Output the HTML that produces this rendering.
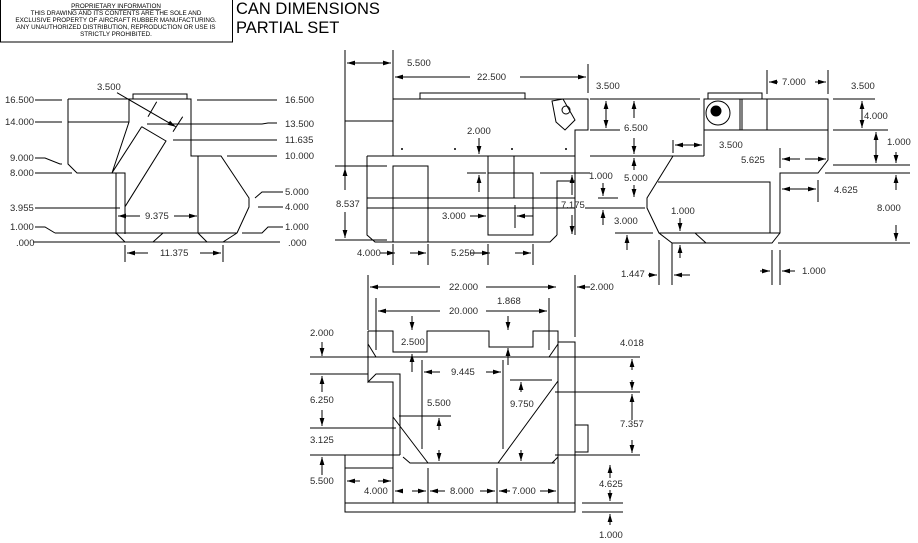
<!DOCTYPE html>
<html><head><meta charset="utf-8"><style>
html,body{margin:0;padding:0;background:#fff;width:918px;height:543px;overflow:hidden}
svg{display:block}
text{font-family:"Liberation Sans",sans-serif;font-size:9.5px;fill:#2a2a2a}
.t{font-size:16.5px;fill:#000}
.s{font-size:6.3px;fill:#000}
</style></head><body>
<svg width="918" height="543" viewBox="0 0 918 543" xmlns="http://www.w3.org/2000/svg">
<defs>
<marker id="a" viewBox="0 0 10 6" refX="10" refY="3" markerWidth="8" markerHeight="5" markerUnits="userSpaceOnUse" orient="auto"><path d="M0,0L10,3L0,6z" fill="#000"/></marker>
</defs>
<rect x="0.5" y="-1" width="232" height="43" fill="none" stroke="#000"/>
<text class="s" x="116" y="8" text-anchor="middle" text-decoration="underline">PROPRIETARY INFORMATION</text>
<text class="s" x="116" y="15" text-anchor="middle">THIS DRAWING AND ITS CONTENTS ARE THE SOLE AND</text>
<text class="s" x="116" y="22" text-anchor="middle">EXCLUSIVE PROPERTY OF AIRCRAFT RUBBER MANUFACTURING.</text>
<text class="s" x="116" y="29" text-anchor="middle">ANY UNAUTHORIZED DISTRIBUTION, REPRODUCTION OR USE IS</text>
<text class="s" x="116" y="36" text-anchor="middle">STRICTLY PROHIBITED.</text>
<text class="t" x="236" y="14">CAN DIMENSIONS</text>
<text class="t" x="236" y="33">PARTIAL SET</text>

<g fill="none" stroke="#000" stroke-width="1">
<rect x="133" y="94" width="54" height="5"/>
<path d="M68,99H191V156H198V233M68,99V164L77,173H125V234M116,173V234M68,122H129V99M129,122L112,173M141.7,126.7L111.7,173.3M141.7,126.7L166,141L125,206.7"/>
<path d="M198,156H221L249,198V207L237,233M55,233H237M33,242H280M116,233L125,242M163,233L153,242M198,233L207,242M237,233L223,242"/>
<path d="M35,100H62M35,122H62M35,158H45L60,164H62M35,173H72M35,208H120M35,227H45L55,233M197,100H277M147,124H262L268,123H277M173,140H277M227,156H277M255,198L262,192H283M258,207H283M242,233H262L268,227H283"/>
<path d="M156.7,101.7L148,116.7M182.7,116.7L173,131.7M125,245V262M223,245V262"/>

<rect x="420" y="93" width="105" height="6"/>
<path d="M393,156V99H588V130H575V156H393M367,156H575V235M367,156V235L375,242H550L557,235M367,198H575M367,208H575"/>
<path d="M552,101L563,99L575,120L565,130L556,122Z"/>
<circle cx="566" cy="110" r="4"/>
<rect x="393" y="166" width="35" height="76"/>
<rect x="488" y="156" width="26" height="42"/>
<rect x="488" y="173" width="45" height="62"/>
<path d="M557,235V181H575"/>
<path d="M345,50V168M345,121H393M393,50V156M588,64V93M335,166H387M335,240H387M467,173H486M540,173H590M590,99H620M590,130H620M515,205V228M393,244V265M428,244V265M488,244V265M533,244V265M598,198H618M598,208H618"/>
<g fill="#000" stroke="none"><circle cx="402" cy="149" r="1"/><circle cx="455" cy="149" r="1"/><circle cx="512" cy="149" r="1"/><circle cx="566" cy="149" r="1"/></g>

<rect x="708" y="93" width="54" height="6"/>
<path d="M704,156V99H828V160L818,173H780V233L772,243H672L659,233L647,208V198L673,156H704M704,130H828M740,99V130M742,99V130M767,99V130M658,182H770V233M659,233H780M695,233L706,243"/>
<circle cx="718" cy="113" r="12"/>
<circle cx="716" cy="111" r="5" fill="#000"/>
<path d="M767,70V94M828,70V94M620,99H700M590,156H700M673,140V153M585,208H645M615,233H653M780,148V168M818,180V202M833,99H875M833,130H888M833,165H910M825,173H910M778,243H910M659,240V285M672,243V285M772,250V285M780,250V285"/>

<path d="M368,331H393V352H427V331H489V347H533V331H558V503M368,331V382L376,374H400V455M368,382H393V503M345,455H400M345,468H393M345,455V512H575V503H345M393,417L428,463M403,457L410,463H555M498,463L558,381M552,463L558,457M368,344L376,357M558,344L549,357M376,331V350M549,331V350"/>
<path d="M558,342H575V503M575,425H588V452H575"/>
<path d="M368,275V330M575,275V337M376,298V350M549,298V350M310,357H640M310,374H368M310,428H396M310,455H345M422,360V449M503,360V449M399,416H451M510,380H552M555,392H640M555,455H640M428,468V503M497,468V503M582,503H623M582,512H623"/>
</g>

<g fill="none" stroke="#000" stroke-width="1" marker-end="url(#a)">
<path d="M117,92.7L175.7,126.7"/>
<path d="M140,216H118"/><path d="M174,216H197"/>
<path d="M148,253H127"/><path d="M200,253H221"/>
<path d="M370,63H347"/><path d="M370,63H391"/>
<path d="M470,77H395"/><path d="M520,77H586"/>
<path d="M345,190V168"/><path d="M345,212V238"/>
<path d="M479,138V154"/><path d="M479,192V175"/>
<path d="M572,195V175"/><path d="M572,215V234"/>
<path d="M606,115V101"/><path d="M606,115V128"/>
<path d="M470,216H486"/><path d="M533,216H517"/>
<path d="M380,253H395"/><path d="M410,253H426"/>
<path d="M470,253H490"/><path d="M515,253H531"/>
<path d="M603,183V196"/><path d="M603,225V210"/>
<path d="M778,82H769"/><path d="M815,82H826"/>
<path d="M634,118V101"/><path d="M634,138V154"/>
<path d="M634,170V158"/><path d="M634,185V197"/>
<path d="M690,145H675"/><path d="M688,145H702"/>
<path d="M800,159H782"/><path d="M805,159H826"/>
<path d="M800,189H782"/><path d="M800,189H816"/>
<path d="M862,115V101"/><path d="M862,115V128"/>
<path d="M876,148V132"/><path d="M876,148V163"/>
<path d="M896,152V163"/><path d="M896,190V175"/><path d="M896,225V241"/>
<path d="M627,250V235"/>
<path d="M680,218V231"/><path d="M680,258V245"/>
<path d="M648,275H657"/><path d="M690,275H674"/>
<path d="M760,271H770"/><path d="M795,271H782"/>
<path d="M440,287H370"/><path d="M486,287H556"/><path d="M590,287H577"/>
<path d="M440,311H378"/><path d="M486,311H547"/>
<path d="M412,316V330"/><path d="M412,372V354"/>
<path d="M508,316V330"/><path d="M508,365V348"/>
<path d="M322,342V356"/>
<path d="M322,392V376"/><path d="M322,410V426"/>
<path d="M322,475V457"/>
<path d="M440,372H424"/><path d="M486,372H501"/>
<path d="M439,430V418"/><path d="M439,450V461"/>
<path d="M521,392V382"/><path d="M521,450V461"/>
<path d="M632,370V359"/><path d="M632,380V390"/>
<path d="M632,420V394"/><path d="M632,440V453"/>
<path d="M610,478V465"/><path d="M610,490V501"/>
<path d="M610,525V514"/>
<path d="M360,481H347"/><path d="M378,481H391"/>
<path d="M400,491H395"/><path d="M412,491H426"/>
<path d="M445,491H430"/><path d="M480,491H495"/>
<path d="M510,491H499"/><path d="M540,491H556"/>
</g>

<g>
<text x="5" y="103">16.500</text><text x="5" y="125">14.000</text><text x="10" y="161">9.000</text><text x="10" y="176">8.000</text>
<text x="10" y="211">3.955</text><text x="10" y="230">1.000</text><text x="16" y="246">.000</text>
<text x="97" y="90">3.500</text>
<text x="285" y="103">16.500</text><text x="285" y="127">13.500</text><text x="285" y="143">11.635</text><text x="285" y="159">10.000</text>
<text x="285" y="195">5.000</text><text x="285" y="210">4.000</text><text x="285" y="230">1.000</text><text x="288" y="246">.000</text>
<text x="145" y="219">9.375</text><text x="160" y="256">11.375</text>
<text x="407" y="66">5.500</text><text x="477" y="80">22.500</text><text x="596" y="89">3.500</text>
<text x="467" y="134">2.000</text><text x="336" y="207">8.537</text><text x="442" y="219">3.000</text>
<text x="561" y="208">7.175</text><text x="589" y="179">1.000</text><text x="357" y="256">4.000</text><text x="451" y="256">5.250</text>
<text x="782" y="85">7.000</text><text x="851" y="89">3.500</text><text x="624" y="131">6.500</text><text x="864" y="119">4.000</text>
<text x="719" y="148">3.500</text><text x="887" y="145">1.000</text><text x="741" y="163">5.625</text>
<text x="624" y="181">5.000</text><text x="834" y="193">4.625</text><text x="877" y="211">8.000</text>
<text x="614" y="224">3.000</text><text x="671" y="214">1.000</text><text x="621" y="277">1.447</text><text x="802" y="274">1.000</text>
<text x="449" y="290">22.000</text><text x="590" y="290">2.000</text><text x="449" y="314">20.000</text><text x="497" y="304">1.868</text>
<text x="310" y="336">2.000</text><text x="401" y="345">2.500</text><text x="620" y="346">4.018</text>
<text x="451" y="375">9.445</text><text x="310" y="403">6.250</text><text x="427" y="406">5.500</text><text x="510" y="407">9.750</text>
<text x="620" y="427">7.357</text><text x="310" y="443">3.125</text><text x="310" y="484">5.500</text>
<text x="364" y="494">4.000</text><text x="450" y="494">8.000</text><text x="512" y="494">7.000</text>
<text x="599" y="487">4.625</text><text x="599" y="538">1.000</text>
</g>
</svg>
</body></html>
